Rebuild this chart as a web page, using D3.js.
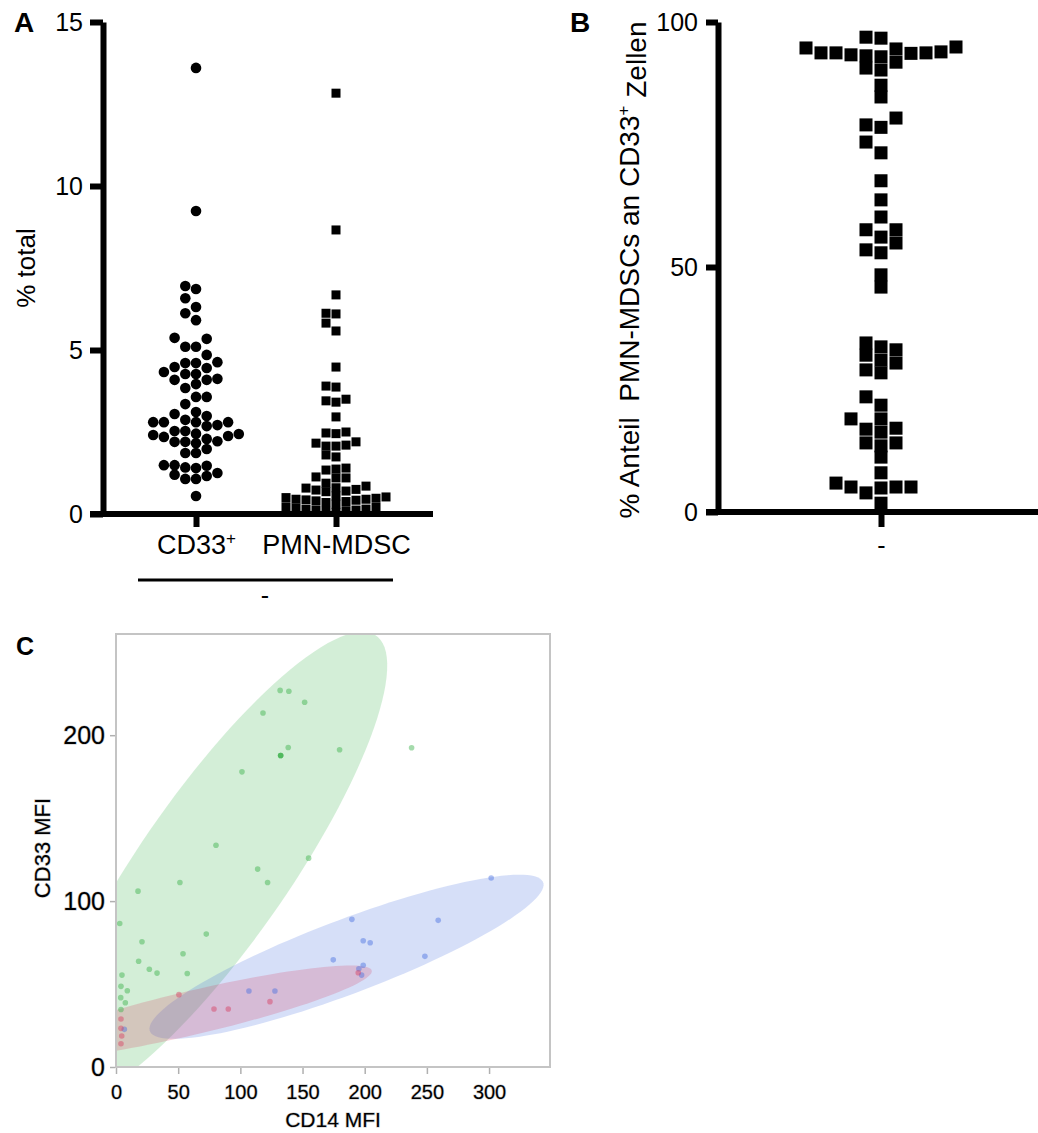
<!DOCTYPE html>
<html>
<head>
<meta charset="utf-8">
<script src="https://cdn.jsdelivr.net/npm/d3@7"></script>
<style>
  body { margin: 0; background: #fff; }
  text { font-family: "Liberation Sans", Arial, sans-serif; }
</style>
</head>
<body>
<script>
// Panel A: % of total cells
var groupsA = ["CD33+", "PMN-MDSC"];
var cd33Pct = [13.6, 9.24, 6.95, 6.86, 6.58, 6.31, 6.12, 5.91, 5.37, 5.34, 5.1, 5.1, 4.85, 4.63, 4.6, 4.6,
  4.48, 4.45, 4.33, 4.27, 4.27, 4.12, 4.09, 4.09, 3.96, 3.84, 3.57, 3.57, 3.35, 3.11, 3.05, 2.99, 2.87,
  2.8, 2.8, 2.8, 2.8, 2.71, 2.68, 2.53, 2.53, 2.45, 2.44, 2.41, 2.38, 2.35, 2.29, 2.22, 2.2, 2.2, 2.16,
  1.98, 1.86, 1.86, 1.49, 1.49, 1.47, 1.42, 1.4, 1.25, 1.2, 1.16, 1.07, 1.07, 0.55];
var pmnPct = [12.83, 8.66, 6.68, 6.12, 6.1, 5.82, 5.58, 4.48, 3.9, 3.87, 3.5, 3.45, 3.41, 2.96, 2.5, 2.47,
  2.45, 2.2, 2.16, 2.1, 2.07, 2.07, 1.8, 1.74, 1.4, 1.37, 1.34, 1.13, 1.1, 1.1, 0.94, 0.85, 0.8, 0.79,
  0.75, 0.73, 0.7, 0.68, 0.55, 0.52, 0.5, 0.48, 0.45, 0.45, 0.43, 0.42, 0.4, 0.38, 0.35, 0.3, 0.22, 0.2,
  0.18, 0.15, 0.14, 0.12, 0.12, 0.1, 0.08, 0.05];
var yTicksA = [0, 5, 10, 15];

// Panel B: % PMN-MDSCs of CD33+ cells
var groupsB = ["-"];
var pmnShare = [96.9, 96.7, 94.9, 94.7, 94.5, 93.9, 93.7, 93.7, 93.7, 93.6, 93.3, 93.1, 92.9, 91.8, 90.6,
  90.2, 87.1, 84.7, 80.4, 79.0, 78.5, 75.5, 73.3, 67.6, 63.7, 60.2, 57.6, 57.6, 56.1, 54.9, 53.5, 52.9,
  48.4, 45.9, 34.5, 33.7, 33.1, 32.0, 31.0, 30.4, 29.0, 28.4, 23.5, 21.8, 19.0, 19.0, 17.1, 16.9, 16.3,
  14.1, 14.1, 13.5, 11.2, 8.0, 5.9, 5.1, 5.1, 5.1, 4.9, 3.9, 1.8];
var yTicksB = [0, 50, 100];

// Panel C: CD14 MFI vs CD33 MFI, three groups
var greenCD14 = [132, 139, 151.7, 118.2, 138.5, 132.4, 132.4, 132.4, 179.8, 237.7, 101.3, 80.4, 154.9,
  113.9, 121.9, 51.4, 17.7, 3, 72.6, 20.9, 53.9, 18.2, 26.8, 33, 57.3, 4.8, 4, 9.1, 3.8, 7.5, 4];
var greenCD33 = [227, 226.5, 219.9, 213.4, 192.6, 187.8, 187.8, 187.8, 191.2, 192.4, 177.9, 133.7, 125.9,
  119.3, 111.2, 111.2, 106, 86.5, 80.1, 75.5, 68.3, 63.7, 58.9, 56.6, 56.4, 55.4, 48.6, 46, 41.8, 38.7, 34.7];
var blueCD14 = [6.7, 106.9, 127.8, 301.7, 189.7, 259.1, 198.8, 204.4, 174.7, 248.4, 198.8, 195.3, 197.5];
var blueCD33 = [22.7, 45.8, 45.8, 113.9, 89, 88.4, 76.1, 74.9, 64.6, 66.7, 61.3, 59.2, 55.4];
var redCD14 = [50.6, 78.8, 90.3, 123.8, 4, 4, 4.6, 4, 194.8];
var redCD33 = [43.6, 35, 35, 39.4, 28.9, 23.3, 18.7, 14, 56.8];
var xTicksC = [0, 50, 100, 150, 200, 250, 300];
var yTicksC = [0, 100, 200];

var svg = d3.select("body").append("svg")
  .attr("width", 1038)
  .attr("height", 1133);

// simple column scatter: put each point in the nearest free column
function swarm(values, yScale, step, minGap) {
  var placed = [];
  var out = [];
  var order = values.map((v, i) => ({v: v, i: i})).sort((a, b) => a.v - b.v);
  order.forEach(d => {
    var y = yScale(d.v);
    for (var k = 0; k < 60; k++) {
      var col = k === 0 ? 0 : (k % 2 ? -Math.ceil(k / 2) : Math.ceil(k / 2));
      var hit = placed.some(p => p.col === col && Math.abs(p.y - y) < minGap);
      if (!hit) {
        placed.push({col: col, y: y});
        out[d.i] = {v: d.v, dx: col * step};
        break;
      }
    }
  });
  return out;
}

function styleAxis(g, width, size) {
  g.selectAll("path, line").attr("stroke", "#000").attr("stroke-width", width);
  g.selectAll("text").attr("fill", "#000").attr("font-size", size + "px");
}

function panelLetter(x, y, t, size) {
  svg.append("text").attr("x", x).attr("y", y)
    .attr("font-weight", "bold").attr("font-size", size + "px").text(t);
}

// ---------------- Panel A ----------------
var yA = d3.scaleLinear().domain([0, 15]).range([514, 22]);
var xA = d3.scalePoint().domain(groupsA).range([196, 336]);

panelLetter(14, 32, "A", 28);

svg.append("g")
  .attr("transform", "translate(103,0)")
  .call(d3.axisLeft(yA).tickValues(yTicksA).tickSize(13).tickSizeOuter(0).tickPadding(7))
  .call(g => styleAxis(g, 6, 25));

svg.append("line")
  .attr("x1", 90).attr("x2", 433).attr("y1", 514).attr("y2", 514)
  .attr("stroke", "#000").attr("stroke-width", 6);

svg.append("g")
  .attr("transform", "translate(0,514)")
  .call(d3.axisBottom(xA).tickSize(13).tickPadding(8))
  .call(g => g.select(".domain").remove())
  .call(g => styleAxis(g, 6, 27))
  .call(g => g.selectAll(".tick text").each(function(d) {
    if (d.endsWith("+")) {
      var t = d3.select(this);
      t.text(d.slice(0, -1));
      t.append("tspan").attr("dy", "-0.6em").attr("font-size", "17px").text("+");
    }
  }));

svg.append("text")
  .attr("transform", "translate(35,268) rotate(-90)")
  .attr("text-anchor", "middle")
  .attr("font-size", "26px")
  .text("% total");

// group bracket under the categories
svg.append("line")
  .attr("x1", 138).attr("x2", 393).attr("y1", 580).attr("y2", 580)
  .attr("stroke", "#000").attr("stroke-width", 3);
svg.append("text")
  .attr("x", 265).attr("y", 604)
  .attr("text-anchor", "middle")
  .attr("font-size", "25px")
  .text("-");

var cd33Nodes = swarm(cd33Pct, yA, 10.7, 9.5);
svg.append("g").selectAll("circle")
  .data(cd33Nodes)
  .enter()
  .append("circle")
  .attr("cx", d => xA("CD33+") + d.dx)
  .attr("cy", d => yA(d.v))
  .attr("r", 5.3)
  .attr("fill", "#000");

var pmnNodes = swarm(pmnPct, yA, 10, 8);
svg.append("g").selectAll("rect")
  .data(pmnNodes)
  .enter()
  .append("rect")
  .attr("x", d => xA("PMN-MDSC") + d.dx - 4.5)
  .attr("y", d => yA(d.v) - 4.5)
  .attr("width", 9)
  .attr("height", 9)
  .attr("fill", "#000");

// ---------------- Panel B ----------------
var yB = d3.scaleLinear().domain([0, 100]).range([512, 22]);
var xB = d3.scalePoint().domain(groupsB).range([881, 881]);

panelLetter(570, 32, "B", 28);

svg.append("g")
  .attr("transform", "translate(718,0)")
  .call(d3.axisLeft(yB).tickValues(yTicksB).tickSize(12).tickSizeOuter(0).tickPadding(8))
  .call(g => styleAxis(g, 6, 25));

svg.append("line")
  .attr("x1", 706).attr("x2", 1038).attr("y1", 512).attr("y2", 512)
  .attr("stroke", "#000").attr("stroke-width", 6);

svg.append("g")
  .attr("transform", "translate(0,512)")
  .call(d3.axisBottom(xB).tickSize(15).tickPadding(9))
  .call(g => g.select(".domain").remove())
  .call(g => styleAxis(g, 6, 25));

var yLabB = svg.append("text")
  .attr("transform", "translate(639,270) rotate(-90)")
  .attr("text-anchor", "middle")
  .attr("font-size", "28px")
  .style("white-space", "pre");
yLabB.append("tspan").text("% Anteil  PMN-MDSCs an CD33");
yLabB.append("tspan").attr("dy", "-0.6em").attr("font-size", "17px").text("+");
yLabB.append("tspan").attr("dy", "0.6em").text(" Zellen");

var shareNodes = swarm(pmnShare, yB, 15, 11);
svg.append("g").selectAll("rect")
  .data(shareNodes)
  .enter()
  .append("rect")
  .attr("x", d => xB("-") + d.dx - 6.5)
  .attr("y", d => yB(d.v) - 6.5)
  .attr("width", 13)
  .attr("height", 13)
  .attr("fill", "#000");

// ---------------- Panel C ----------------
var xC = d3.scaleLinear().domain([0, 349]).range([116, 550]);
var yC = d3.scaleLinear().domain([0, 261]).range([1067, 634]);

panelLetter(16, 655, "C", 25);

svg.append("defs").append("clipPath").attr("id", "clipC")
  .append("rect")
  .attr("x", xC(0)).attr("y", yC(261))
  .attr("width", xC(349) - xC(0)).attr("height", yC(0) - yC(261));

// 90% density ellipse from mean and covariance of each group
function ellipse(xs, ys, level) {
  var n = xs.length, mx = d3.mean(xs), my = d3.mean(ys);
  var sxx = 0, syy = 0, sxy = 0;
  for (var i = 0; i < n; i++) {
    sxx += (xs[i] - mx) * (xs[i] - mx);
    syy += (ys[i] - my) * (ys[i] - my);
    sxy += (xs[i] - mx) * (ys[i] - my);
  }
  sxx /= n - 1; syy /= n - 1; sxy /= n - 1;
  var tr = sxx + syy, det = sxx * syy - sxy * sxy;
  var root = Math.sqrt(tr * tr / 4 - det);
  var l1 = tr / 2 + root, l2 = Math.max(tr / 2 - root, 0);
  var ang = Math.atan2(l1 - sxx, sxy);
  var k = Math.sqrt(-2 * Math.log(1 - level));
  return d3.range(0, 360, 3).map(deg => {
    var t = deg * Math.PI / 180;
    var ex = k * Math.sqrt(l1) * Math.cos(t), ey = k * Math.sqrt(l2) * Math.sin(t);
    return [mx + ex * Math.cos(ang) - ey * Math.sin(ang), my + ex * Math.sin(ang) + ey * Math.cos(ang)];
  });
}

var groupsC = [
  {name: "green", xs: greenCD14, ys: greenCD33, color: "rgb(56,176,72)"},
  {name: "blue", xs: blueCD14, ys: blueCD33, color: "rgb(70,110,225)"},
  {name: "red", xs: redCD14, ys: redCD33, color: "rgb(215,60,95)"}
];

var ellLine = d3.line().x(d => xC(d[0])).y(d => yC(d[1])).curve(d3.curveLinearClosed);

var plotC = svg.append("g").attr("clip-path", "url(#clipC)");
plotC.selectAll("path.ell")
  .data(groupsC)
  .enter()
  .append("path")
  .attr("class", "ell")
  .attr("d", g => ellLine(ellipse(g.xs, g.ys, 0.9)))
  .attr("fill", g => g.color)
  .attr("fill-opacity", 0.22);

groupsC.forEach(g => {
  plotC.append("g").selectAll("circle")
    .data(g.xs.map((x, i) => [x, g.ys[i]]))
    .enter()
    .append("circle")
    .attr("cx", d => xC(d[0]))
    .attr("cy", d => yC(d[1]))
    .attr("r", 2.8)
    .attr("fill", g.color)
    .attr("fill-opacity", 0.45);
});

// frame
svg.append("rect")
  .attr("x", xC(0)).attr("y", yC(261))
  .attr("width", xC(349) - xC(0)).attr("height", yC(0) - yC(261))
  .attr("fill", "none").attr("stroke", "#c4c4c4").attr("stroke-width", 2);

function halo(g, size) {
  g.selectAll("text").attr("fill", "#000").attr("font-size", size + "px")
    .attr("stroke", "#c8c8c8").attr("stroke-width", 1.2).attr("paint-order", "stroke");
}

svg.append("g")
  .attr("transform", "translate(" + (xC(0) - 1) + ",0)")
  .call(d3.axisLeft(yC).tickValues(yTicksC).tickSize(5).tickPadding(5))
  .call(g => g.select(".domain").remove())
  .call(g => g.selectAll("line").attr("stroke", "#b0b0b0").attr("stroke-width", 1.5))
  .call(g => halo(g, 25));

svg.append("g")
  .attr("transform", "translate(0," + (yC(0) + 1) + ")")
  .call(d3.axisBottom(xC).tickValues(xTicksC).tickSize(6).tickPadding(11))
  .call(g => g.select(".domain").remove())
  .call(g => g.selectAll("line").attr("stroke", "#b0b0b0").attr("stroke-width", 1.5))
  .call(g => halo(g, 20));

svg.append("text")
  .attr("x", 333).attr("y", 1127)
  .attr("text-anchor", "middle")
  .attr("font-size", "21px")
  .attr("stroke", "#c8c8c8").attr("stroke-width", 1.2).attr("paint-order", "stroke")
  .text("CD14 MFI");

svg.append("text")
  .attr("transform", "translate(50,848) rotate(-90)")
  .attr("text-anchor", "middle")
  .attr("font-size", "22px")
  .attr("stroke", "#c8c8c8").attr("stroke-width", 1.2).attr("paint-order", "stroke")
  .text("CD33 MFI");
</script>
</body>
</html>
